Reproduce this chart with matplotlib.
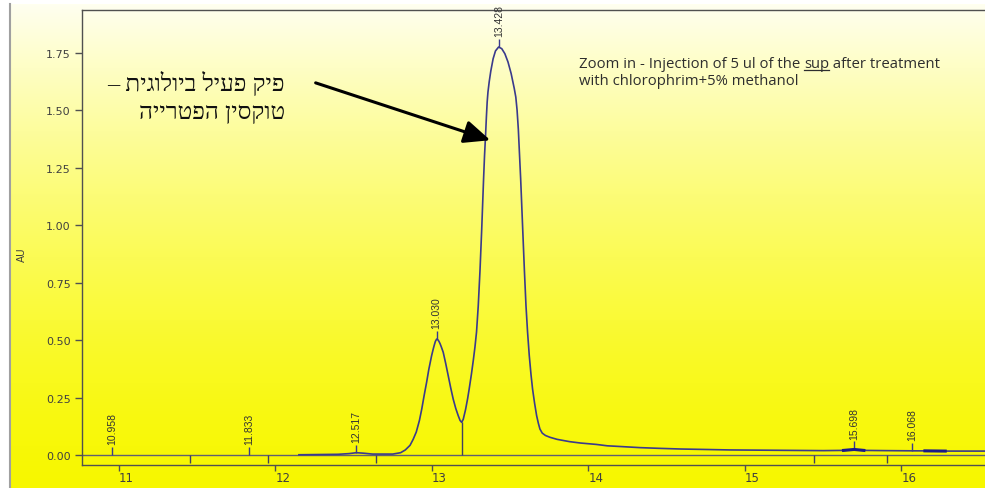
import numpy as np
import matplotlib.pyplot as plt
from matplotlib.lines import Line2D

W, H = 985, 489

# chromatogram trace (retention time in min, absorbance AU)
rt_trace = [12.15, 12.40, 12.47, 12.517, 12.56, 12.62, 12.75, 12.80, 12.83, 12.86,
            12.88, 12.90, 12.92, 12.935, 12.95, 12.966, 12.98, 12.998, 13.008, 13.015,
            13.022, 13.03, 13.038, 13.045, 13.052, 13.06, 13.072, 13.088, 13.104, 13.12,
            13.136, 13.152, 13.168, 13.18, 13.19, 13.20, 13.215, 13.228, 13.238, 13.252,
            13.265, 13.275, 13.285, 13.296, 13.307, 13.318, 13.33, 13.336, 13.343, 13.348,
            13.353, 13.358, 13.366, 13.376, 13.391, 13.406, 13.426, 13.446, 13.466, 13.486,
            13.506, 13.526, 13.536, 13.544, 13.552, 13.567, 13.58, 13.591, 13.601, 13.611,
            13.622, 13.633, 13.643, 13.656, 13.669, 13.68, 13.69, 13.705, 13.725, 13.754,
            13.80, 13.88, 13.95, 14.05, 14.12, 14.2, 14.33, 14.45, 14.59, 14.75,
            14.9, 15.1, 15.3, 15.5, 15.63, 15.698, 15.76, 15.9, 16.1, 16.15,
            16.28, 16.4, 16.53]
au_trace = [0.001, 0.003, 0.006, 0.010, 0.008, 0.004, 0.004, 0.010, 0.022, 0.042,
            0.068, 0.100, 0.150, 0.200, 0.258, 0.316, 0.372, 0.432, 0.460, 0.478,
            0.494, 0.504, 0.501, 0.494, 0.484, 0.470, 0.447, 0.398, 0.345, 0.292,
            0.243, 0.203, 0.171, 0.150, 0.142, 0.155, 0.198, 0.245, 0.287, 0.350,
            0.415, 0.470, 0.535, 0.649, 0.800, 0.980, 1.200, 1.300, 1.395, 1.470,
            1.535, 1.578, 1.623, 1.669, 1.723, 1.757, 1.774, 1.767, 1.745, 1.709,
            1.659, 1.594, 1.556, 1.500, 1.417, 1.200, 0.983, 0.800, 0.649, 0.535,
            0.432, 0.350, 0.287, 0.225, 0.171, 0.138, 0.113, 0.095, 0.085, 0.077,
            0.068, 0.058, 0.052, 0.046, 0.040, 0.037, 0.032, 0.029, 0.026, 0.024,
            0.022, 0.021, 0.020, 0.019, 0.020, 0.024, 0.020, 0.019, 0.018, 0.018,
            0.017, 0.017, 0.017]

# labelled peaks
peak_rt = [10.958, 11.833, 12.517, 13.030, 13.428, 15.698, 16.068]
peak_au = [0.0, 0.0, 0.010, 0.504, 1.774, 0.024, 0.018]

# integration delimiters
delim_rt = [11.454, 11.952, 12.642, 15.441, 15.907]
valley_rt, valley_au = 13.19, 0.142

x_ticks = [11, 12, 13, 14, 15, 16]
y_ticks = [0.0, 0.25, 0.5, 0.75, 1.0, 1.25, 1.5, 1.75]

fig = plt.figure(figsize=(W / 100, H / 100), dpi=100)
fig.patch.set_facecolor('white')

# yellow gradient panel
bg = fig.add_axes([10 / W, 0, (W - 10) / W, 484 / H])
t = np.linspace(0, 1, 300)[:, None]
blue = 0.94 * (1 - t) ** 1.4
rg = 1 - 0.03 * t
grad = np.dstack([rg, rg, blue]).repeat(2, axis=1)
bg.imshow(grad, aspect='auto', extent=[0, 1, 0, 1])
bg.set_axis_off()
bg.set_zorder(-5)
fig.add_artist(Line2D([10 / W, 10 / W], [0, 484 / H], color='#a0a0a0', lw=1.5))

ax = fig.add_axes([82 / W, 1 - 466 / H, (W - 82) / W, (466 - 11) / H])
ax.patch.set_alpha(0)
ax.set_xlim(10.764, 16.534)
ax.set_ylim(-0.0435, 1.935)

for s in ['left', 'top', 'bottom']:
    ax.spines[s].set_color('#505050')
    ax.spines[s].set_linewidth(1)
ax.spines['right'].set_visible(False)

ax.set_yticks(y_ticks)
ax.set_yticklabels(['%.2f' % v for v in y_ticks])
ax.set_xticks(x_ticks)
ax.set_xticklabels([str(v) for v in x_ticks])
ax.tick_params(axis='y', length=5, width=1, color='#505050', labelsize=8,
               labelcolor='#404040', pad=3)
ax.tick_params(axis='x', length=4, width=1, color='#505050', labelsize=8.5,
               labelcolor='#404040', pad=0.5)
for lbl in ax.get_xticklabels():
    lbl.set_horizontalalignment('left')
fig.text(22 / W, 1 - 255 / H, 'AU', rotation=90, ha='center', va='center',
         fontsize=7.5, color='#404040')

ax.axhline(0, color='#606070', lw=1, zorder=1)
ax.plot(rt_trace, au_trace, color='#3a3a8c', lw=1.2, zorder=3)

# thicker segments where small peaks were integrated
rt_arr = np.array(rt_trace)
au_arr = np.array(au_trace)
for lo, hi in [(15.63, 15.76), (16.15, 16.28)]:
    m = (rt_arr >= lo) & (rt_arr <= hi)
    ax.plot(rt_arr[m], au_arr[m], color='#1a1a8a', lw=2.2, zorder=3)

ax.vlines(delim_rt, -0.033, 0, color='#404060', lw=1)
ax.vlines(valley_rt, 0, valley_au, color='#404060', lw=1)

ax.vlines(peak_rt, peak_au, np.array(peak_au) + 0.035, color='#3a3a8c', lw=1)
for x, y in zip(peak_rt, peak_au):
    ax.annotate('%.3f' % x, xy=(x, y + 0.035), xytext=(0, 2), textcoords='offset points',
                rotation=90, ha='center', va='bottom', fontsize=7.5, color='#333333',
                family='Liberation Sans')

# arrow pointing at the main peak
ax.annotate('', xy=(13.39, 1.365), xytext=(12.24, 1.622),
            arrowprops=dict(arrowstyle='-|>,head_length=0.8,head_width=0.35',
                            color='black', lw=2.2, mutation_scale=20))

heb_font = ['Liberation Serif', 'DejaVu Serif', 'DejaVu Sans']
line1 = 'פיק פעיל ביולוגית –'
line2 = 'טוקסין הפטרייה'
fig.text(285 / W, 1 - 83 / H, line1[::-1], ha='right', va='center', fontsize=17.5,
         family=heb_font, color='#111111')
fig.text(285 / W, 1 - 113 / H, line2[::-1], ha='right', va='center', fontsize=17.5,
         family=heb_font, color='#111111')

# note with underlined "sup"
r = fig.canvas.get_renderer()
note_kw = dict(fontsize=10.7, family='Open Sans', color='#2e2e2e', va='baseline')
y1 = 1 - 68 / H
t1 = fig.text(579 / W, y1, 'Zoom in - Injection of 5 ul of the ', **note_kw)
bb1 = t1.get_window_extent(renderer=r)
t2 = fig.text(bb1.x1 / W, y1, 'sup', **note_kw)
bb2 = t2.get_window_extent(renderer=r)
fig.add_artist(Line2D([bb2.x0 / W, bb2.x1 / W], [y1 - 3 / H, y1 - 3 / H],
                      color='#2e2e2e', lw=0.9))
fig.text(bb2.x1 / W, y1, ' after treatment', **note_kw)
fig.text(579 / W, 1 - 85 / H, 'with chlorophrim+5% methanol', **note_kw)

fig.savefig('out.png', dpi=100)
